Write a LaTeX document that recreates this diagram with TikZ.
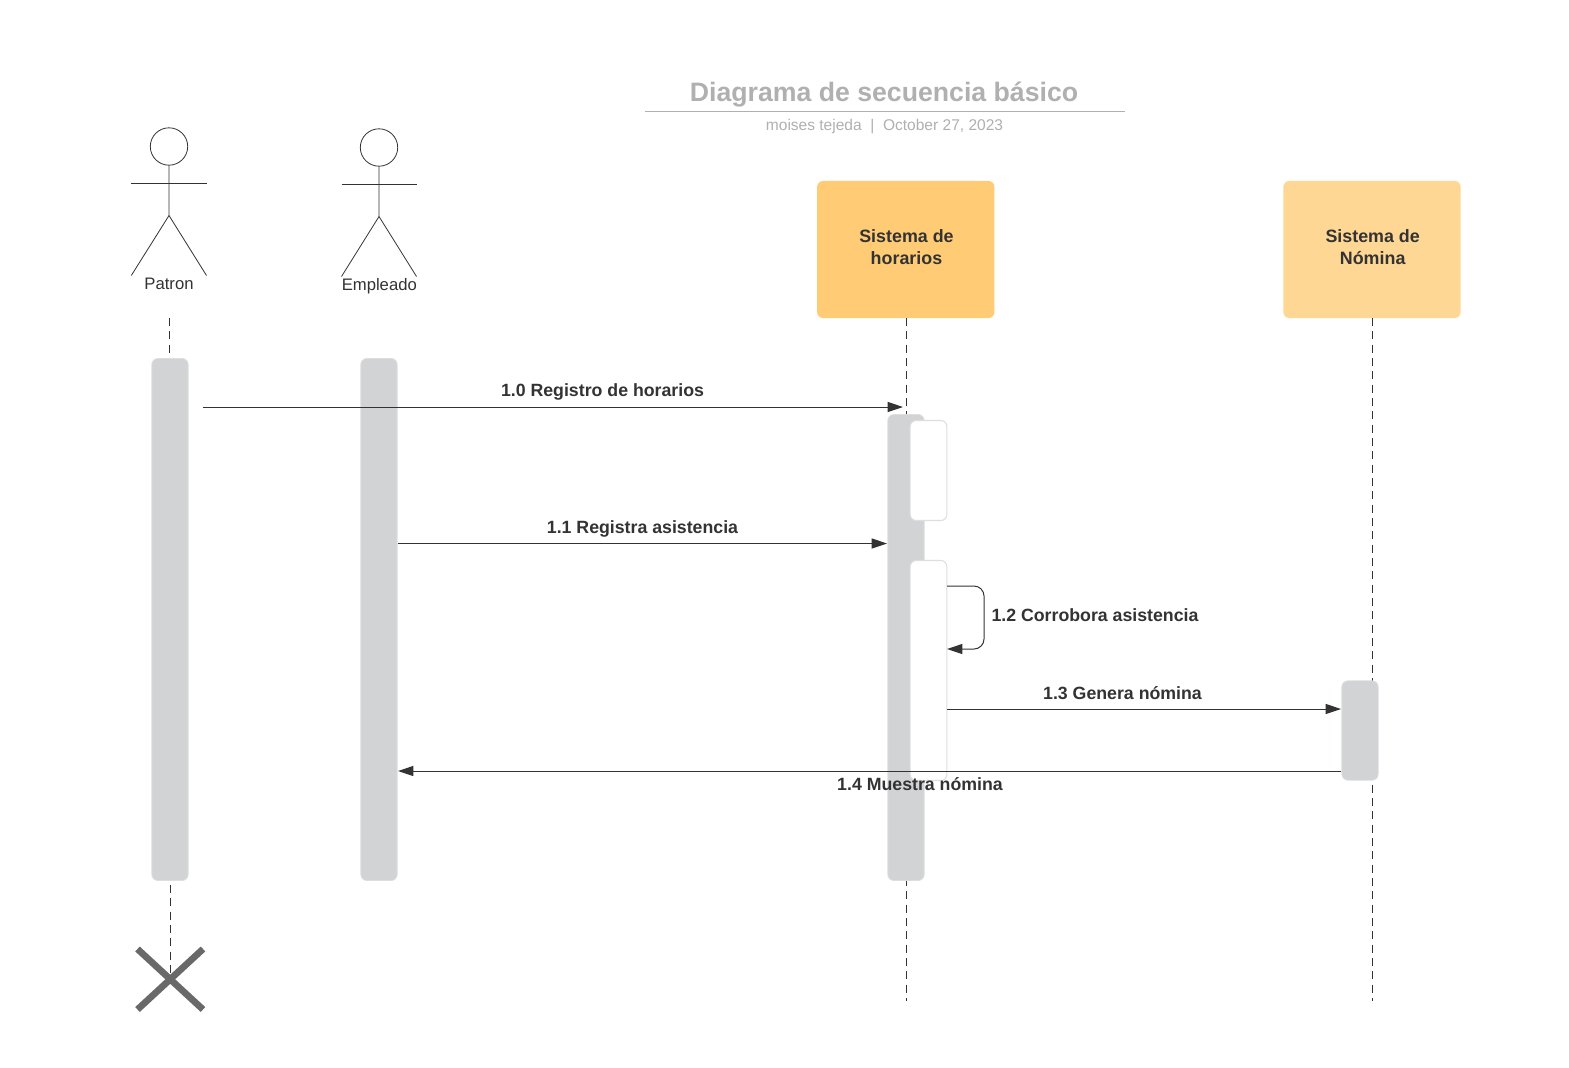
\documentclass[tikz,border=0pt]{standalone}
\usepackage{fontspec}
\setmainfont{Liberation Sans}
\usetikzlibrary{arrows.meta,calc}
\definecolor{ink}{HTML}{333333}
\definecolor{bargray}{HTML}{D2D3D5}
\definecolor{barline}{HTML}{DDDEE0}
\definecolor{titlegray}{HTML}{B0B0B0}
\definecolor{orangeA}{HTML}{FFCC75}
\definecolor{orangeB}{HTML}{FFD794}
\definecolor{xgray}{HTML}{696969}
\tikzset{
  x=0.75pt,y=-0.75pt,
  bar/.style={draw=barline,line width=0.6pt,fill=bargray,rounded corners=4.5pt,minimum width=27.2pt,inner sep=0pt,outer sep=0pt},
  whitebar/.style={draw=barline,line width=0.8pt,fill=white,rounded corners=4.5pt,minimum width=27.5pt,inner sep=0pt,outer sep=0pt},
  obj/.style={rounded corners=4.5pt,minimum width=133pt,minimum height=102.8pt,inner sep=0pt,outer sep=0pt,align=center,text=ink,font=\fontsize{13.4pt}{16pt}\selectfont\bfseries},
  life/.style={draw=ink,line width=0.7pt,dash pattern=on 6pt off 4pt},
  msg/.style={draw=ink,line width=0.75pt,-{Triangle[length=11.5pt,width=7.5pt,fill=ink]}},
  lab/.style={text=ink,font=\fontsize{13.3pt}{16pt}\selectfont\bfseries,inner sep=0pt},
  actorname/.style={text=ink,font=\fontsize{12.5pt}{15pt}\selectfont,inner sep=0pt},
  stick/.style={draw=ink,line width=0.6pt},
  crossline/.style={draw=xgray,line width=5pt}
}
\begin{document}
\begin{tikzpicture}
\useasboundingbox (0,0) rectangle (1569,1067);
\fill[white] (0,0) rectangle (1569,1067);
% title
\node[inner sep=0pt,text=titlegray,font=\fontsize{20pt}{24pt}\selectfont\bfseries] (title) at (884,94.5) {Diagrama de secuencia básico};
\coordinate (ruleL) at (645,111.5);
\coordinate (ruleR) at (1124.5,111.5);
\draw[draw=titlegray,line width=0.6pt] (ruleL) -- (ruleR);
\node[inner sep=0pt,text=titlegray,font=\fontsize{11.65pt}{14pt}\selectfont] (subtitle) at (884.5,126.5) {moises tejeda\ \ |\ \ October 27, 2023};
% object boxes
\node[obj,fill=orangeA] (sh) at (905.8,249.5) {\hspace{1pt}\raisebox{3.4pt}{\shortstack{Sistema de\\[3.75pt]horarios}}};
\node[obj,fill=orangeB] (sn) at (1372,249.5) {\hspace{1pt}\raisebox{3.4pt}{\shortstack{Sistema de\\[3.75pt]Nómina}}};
% lifeline anchors
\coordinate (pT) at (169,318);
\coordinate (pB) at (169,358);
\coordinate (pC) at (170,885);
\coordinate (pX) at (170,975);
\coordinate (hB) at (906.3,1000.5);
\coordinate (nB) at (1372,1000.5);
\draw[life] ($(sh.south)+(0.5,0)$) -- (hB);
\draw[life] (sn.south) -- (nB);
\draw[life] (pT) -- (pB);
\draw[life] (pC) -- (pX);
% activation bars
\node[bar,minimum height=391.5pt] (bp) at (170,619.5) {};
\node[bar,minimum height=391.5pt] (be) at (379,619.5) {};
\node[bar,minimum height=349.5pt] (bh) at (906,647.5) {};
\node[bar,minimum height=74.5pt] (bn) at (1360,730.5) {};
\node[whitebar,minimum height=75pt] (w1) at (928.5,470.5) {};
\node[whitebar,minimum height=165pt] (w2) at (928.5,670.5) {};
% actors
\coordinate (a1h) at (169,146.5);
\draw[stick] (a1h) circle (18.7);
\coordinate (a1n) at (169,165.5);
\coordinate (a1w) at (169,215.5);
\coordinate (a1l) at (131.3,183);
\coordinate (a1r) at (206.5,183);
\coordinate (a1fl) at (131.3,275.5);
\coordinate (a1fr) at (206.5,275.5);
\draw[stick] (a1n) -- (a1w) -- (a1fl);
\draw[stick] (a1w) -- (a1fr);
\draw[stick] (a1l) -- (a1r);
\node[actorname] (patron) at (169,283.5) {Patron};
\coordinate (a2h) at (379,147.5);
\draw[stick] (a2h) circle (18.7);
\coordinate (a2n) at (379,166.5);
\coordinate (a2w) at (379,216.5);
\coordinate (a2l) at (341.5,184);
\coordinate (a2r) at (416.5,184);
\coordinate (a2fl) at (341.5,276.5);
\coordinate (a2fr) at (416.5,276.5);
\draw[stick] (a2n) -- (a2w) -- (a2fl);
\draw[stick] (a2w) -- (a2fr);
\draw[stick] (a2l) -- (a2r);
\node[actorname] (empleado) at (379.3,286) {Empleado};
% X
\coordinate (x1) at (137.5,949);
\coordinate (x2) at (203,1009.5);
\coordinate (x3) at (203,949);
\coordinate (x4) at (137.5,1009.5);
\draw[crossline] (x1) -- (x2);
\draw[crossline] (x3) -- (x4);
% messages
\coordinate (m0s) at (203,407);
\coordinate (m0e) at (903,407);
\draw[msg] (m0s) -- (m0e);
\node[lab] (l0) at (602.5,391.5) {1.0 Registro de horarios};
\coordinate (m1s) at (398,543.5);
\coordinate (m1e) at (887,543.5);
\draw[msg] (m1s) -- (m1e);
\node[lab] (l1) at (642.5,528.7) {1.1 Registra asistencia};
\coordinate (m2s) at (947,586);
\coordinate (m2e) at (947,649);
\draw[msg,rounded corners=7.5pt] (m2s) -- (984,586) -- (984,649) -- (m2e);
\node[lab] (l2) at (1095,615.5) {1.2 Corrobora asistencia};
\coordinate (m3s) at (947,709);
\coordinate (m3e) at (1341,709);
\draw[msg] (m3s) -- (m3e);
\node[lab] (l3) at (1122.5,693.5) {1.3 Genera nómina};
\coordinate (m4s) at (1341,771);
\coordinate (m4e) at (398,771);
\draw[msg] (m4s) -- (m4e);
\node[lab] (l4) at (920,784) {1.4 Muestra nómina};
\end{tikzpicture}
\end{document}
